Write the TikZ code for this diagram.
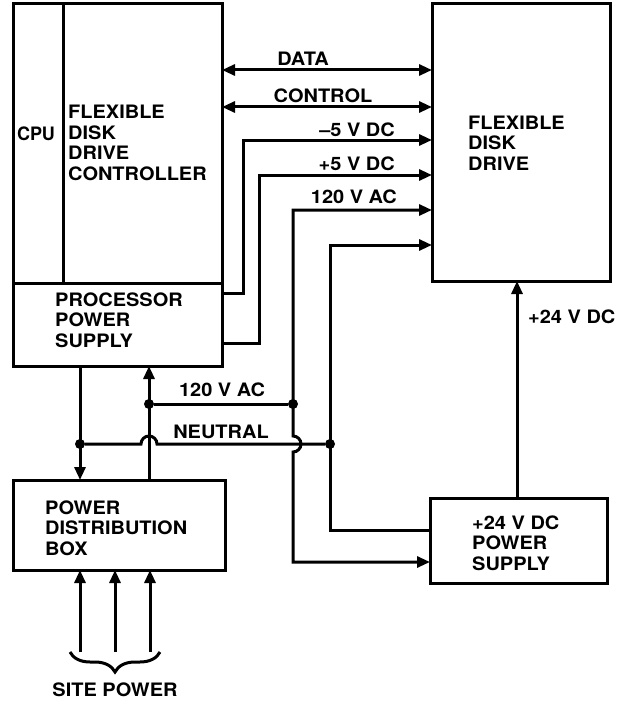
\documentclass[tikz,border=0pt]{standalone}
\usepackage{fontspec}
\setmainfont{TeX Gyre Heros}[FakeStretch=1.08]
\usetikzlibrary{positioning,arrows.meta,decorations.pathreplacing}
\newcommand\lblfont{\fontsize{18.5}{20.5}\selectfont\bfseries}
\tikzset{
  box/.style={draw, line width=3pt, inner sep=0pt, outer sep=0pt, anchor=north west},
  wire/.style={line width=3pt},
  tip/.style={-{Triangle[length=13pt,width=11pt]}},
  twotip/.style={{Triangle[length=13pt,width=11pt]}-{Triangle[length=13pt,width=11pt]}},
  dot/.style={circle, fill, inner sep=0pt, minimum size=10pt},
  lbl/.style={font=\lblfont, inner sep=0pt, align=left},
}
\begin{document}
\begin{tikzpicture}[x=1pt,y=-1pt]
  \useasboundingbox (0,0) rectangle (622,706);

  % Boxes
  \node[box, minimum width=50pt, minimum height=279pt] (cpu) at (13,4) {};
  \node[box, minimum width=159pt, minimum height=279pt, right=0pt of cpu] (ctrl) {};
  \node[box, minimum width=209pt, minimum height=83pt, below right=0pt and 0pt of cpu.south west] (pps) {};
  \node[box, minimum width=178pt, minimum height=277pt] (fdd) at (432,4) {};
  \node[box, minimum width=212pt, minimum height=90pt] (pdb) at (13,480) {};
  \node[box, minimum width=177pt, minimum height=85pt] (psu) at (430,498) {};

  % Box texts
  \node[lbl, xscale=0.9, transform shape] (cpu-txt) at (36,134) {CPU};
  \node[lbl, anchor=west] (ctrl-txt) at (68,143) {FLEXIBLE\\DISK\\DRIVE\\CONTROLLER};
  \node[lbl, anchor=west] (pps-txt) at (55,320) {PROCESSOR\\POWER\\SUPPLY};
  \node[lbl, anchor=west] (fdd-txt) at (468,143) {FLEXIBLE\\DISK\\DRIVE};
  \node[lbl, anchor=west] (pdb-txt) at (45,528) {POWER\\DISTRIBUTION\\BOX};
  \node[lbl, anchor=west] (psu-txt) at (472,543) {+24 V DC\\POWER\\SUPPLY};

  % Junctions
  \node[dot] (jacL) at (149,404) {};
  \node[dot] (jacR) at (293,404) {};
  \node[dot] (jnL) at (80,444) {};
  \node[dot] (jnR) at (330,444) {};

  % Controller to drive
  \draw[wire,twotip] (ctrl.east |- 0,70) -- (fdd.west |- 0,70);
  \draw[wire,twotip] (ctrl.east |- 0,107) -- (fdd.west |- 0,107);
  \draw[wire,tip] (pps.east |- 0,293) -- (243,293) -- (243,140) -- (fdd.west |- 0,140);
  \draw[wire,tip] (pps.east |- 0,343) -- (259,343) -- (259,175) -- (fdd.west |- 0,175);

  % 120 V AC and neutral
  \draw[wire,twotip] (fdd.west |- 0,210) -- (293,210) -- (293,436) arc (90:-90:8pt)
    -- (293,562) -- (psu.west |- 0,562);
  \draw[wire,tip] (psu.west |- 0,530) -- (330,530) -- (330,245) -- (fdd.west |- 0,245);
  \draw[wire] (jacL) -- (jacR);
  \draw[wire] (jnL) -- (141,444) arc (180:0:8pt) -- (jnR);
  \draw[wire,tip] (pps.south -| 80,0) -- (pdb.north -| 80,0);
  \draw[wire,tip] (pdb.north -| 149,0) -- (pps.south -| 149,0);
  \draw[wire,tip] (psu.north -| 517,0) -- (fdd.south -| 517,0);

  % Site power
  \foreach \x in {80,115,150}
    \draw[wire,tip] (\x,652) -- (pdb.south -| \x,0);
  \draw[wire, decorate, decoration={brace, mirror, amplitude=20pt}] (70,652) -- (160,652);

  % Labels
  \node[lbl] (data-lbl) at (303,59) {DATA};
  \node[lbl] (control-lbl) at (323,96) {CONTROL};
  \node[lbl, anchor=east] (m5-lbl) at (395,130) {--5 V DC};
  \node[lbl, anchor=east] (p5-lbl) at (395,164) {+5 V DC};
  \node[lbl, anchor=east] (ac-lbl) at (397,197) {120 V AC};
  \node[lbl] (ac2-lbl) at (222,390) {120 V AC};
  \node[lbl] (neutral-lbl) at (221,432) {NEUTRAL};
  \node[lbl, anchor=west] (p24-lbl) at (528,317) {+24 V DC};
  \node[lbl] (site-lbl) at (115,690) {SITE POWER};
\end{tikzpicture}
\end{document}
